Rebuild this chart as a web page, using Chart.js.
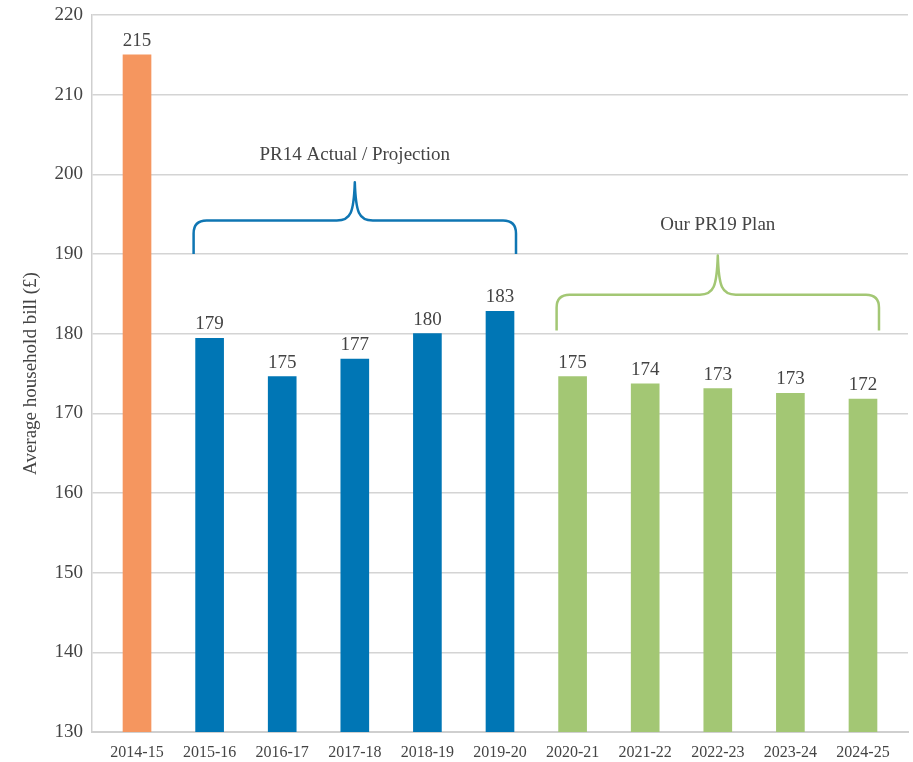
<!DOCTYPE html>
<html>
<head>
<meta charset="utf-8">
<script src="https://cdn.jsdelivr.net/npm/chart.js@4"></script>
<style>
  html, body { margin: 0; padding: 0; background: #fff; }
  #wrap { width: 913px; height: 762px; }
</style>
</head>
<body>
<div id="wrap"><canvas id="chart" width="913" height="762"></canvas></div>
<script>
// ---------------- dados ----------------
const YEARS = ["2014-15","2015-16","2016-17","2017-18","2018-19","2019-20",
               "2020-21","2021-22","2022-23","2023-24","2024-25"];
const BILLS = [215, 179.4, 174.6, 176.8, 180, 182.8, 174.6, 173.7, 173.1, 172.5, 171.8];
const BILL_LABELS = ["215","179","175","177","180","183","175","174","173","173","172"];
const GROUPS = ["base","pr14","pr14","pr14","pr14","pr14","pr19","pr19","pr19","pr19","pr19"];
const Y_MIN = 130, Y_MAX = 220, Y_STEP = 10;

// chavetas: índices cobertos, níveis em valores do eixo y
const BRACES = [
  { from: 1, to: 5, bottom: 190, level: 194.2, peak: 199, text: "PR14 Actual / Projection", textY: 202.4, color: "#0f76b3" },
  { from: 6, to: 10, bottom: 180.4, level: 184.9, peak: 189.8, text: "Our PR19 Plan", textY: 193.6, color: "#a3c774" },
];

const COLORS = { base: "#f5965f", pr14: "#0076b5", pr19: "#a3c774" };
const FONT = "'Liberation Serif', serif";
const TEXT = "#444";

// ---------------- plugins ----------------
const valueLabels = {
  id: "valueLabels",
  afterDatasetsDraw(chart) {
    const { ctx } = chart;
    const meta = chart.getDatasetMeta(0);
    ctx.save();
    ctx.font = "19px " + FONT;
    ctx.fillStyle = TEXT;
    ctx.textAlign = "center";
    ctx.textBaseline = "alphabetic";
    meta.data.forEach((bar, i) => ctx.fillText(BILL_LABELS[i], bar.x, bar.y - 9));
    ctx.restore();
  }
};

const braces = {
  id: "braces",
  afterDatasetsDraw(chart) {
    const { ctx, scales: { y } } = chart;
    const meta = chart.getDatasetMeta(0);
    ctx.save();
    BRACES.forEach(b => {
      const x0 = meta.data[b.from].x - meta.data[b.from].width / 2 - 2;
      const x1 = meta.data[b.to].x + meta.data[b.to].width / 2 + 2;
      const xm = (x0 + x1) / 2;
      const yb = y.getPixelForValue(b.bottom);
      const yh = y.getPixelForValue(b.level);
      const yp = y.getPixelForValue(b.peak);
      const r = 13, c = 18;
      ctx.beginPath();
      ctx.moveTo(x0, yb);
      ctx.lineTo(x0, yh + r);
      ctx.quadraticCurveTo(x0, yh, x0 + r, yh);
      ctx.lineTo(xm - c, yh);
      ctx.bezierCurveTo(xm - 4, yh, xm - 1, yh - 8, xm, yp);
      ctx.bezierCurveTo(xm + 1, yh - 8, xm + 4, yh, xm + c, yh);
      ctx.lineTo(x1 - r, yh);
      ctx.quadraticCurveTo(x1, yh, x1, yh + r);
      ctx.lineTo(x1, yb);
      ctx.strokeStyle = b.color;
      ctx.lineWidth = 2.5;
      ctx.lineJoin = "round";
      ctx.stroke();

      ctx.font = "19px " + FONT;
      ctx.fillStyle = TEXT;
      ctx.textAlign = "center";
      ctx.textBaseline = "middle";
      ctx.fillText(b.text, xm, y.getPixelForValue(b.textY));
    });
    ctx.restore();
  }
};

// ---------------- gráfico ----------------
new Chart(document.getElementById("chart").getContext("2d"), {
  type: "bar",
  data: {
    datasets: [{
      data: BILLS.map((v, i) => ({ x: i, y: v })),
      backgroundColor: GROUPS.map(g => COLORS[g]),
      barThickness: 28,
      borderWidth: 0,
    }]
  },
  options: {
    responsive: false,
    animation: false,
    layout: { padding: { top: 15, right: 5, left: 0, bottom: 0 } },
    plugins: { legend: { display: false }, tooltip: { enabled: false } },
    scales: {
      x: {
        type: "linear",
        offset: false,
        min: -0.62, max: YEARS.length - 0.38,
        afterBuildTicks: s => { s.ticks = YEARS.map((_, i) => ({ value: i })); },
        afterFit: s => { s.height = 30; s.paddingLeft = 0; s.paddingRight = 0; },
        grid: { display: false, drawTicks: false },
        border: { color: "#cfcfcf", width: 2 },
        ticks: {
          callback: v => YEARS[v] ?? "",
          color: TEXT, font: { family: FONT, size: 16 }, padding: 11,
          maxRotation: 0, autoSkip: false,
        }
      },
      y: {
        min: Y_MIN, max: Y_MAX,
        afterFit: s => { s.width = 92; s.paddingTop = 0; s.paddingBottom = 0; },
        grid: { color: "#d4d4d4", lineWidth: 1.5, drawTicks: false },
        border: { color: "#cfcfcf", width: 1.5 },
        ticks: {
          stepSize: Y_STEP, color: TEXT, padding: 9,
          font: { family: FONT, size: 19 },
        },
        title: {
          display: true, text: "Average household bill (£)",
          color: TEXT, font: { family: FONT, size: 19 },
          padding: { top: 20, bottom: 0 }
        }
      }
    }
  },
  plugins: [valueLabels, braces]
});
</script>
</body>
</html>
